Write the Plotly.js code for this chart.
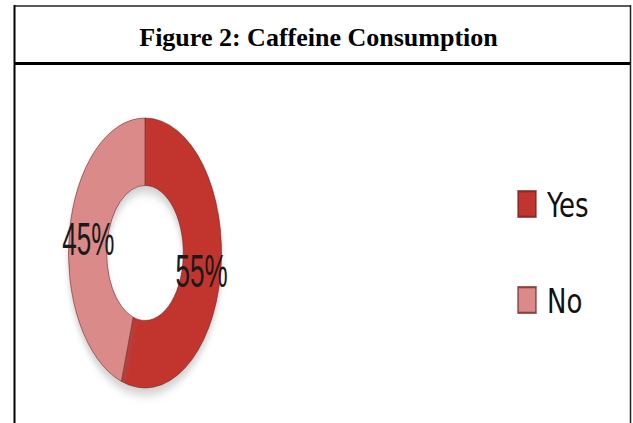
<!DOCTYPE html>
<html>
<head>
<meta charset="utf-8">
<script src="https://cdn.plot.ly/plotly-3.0.1.min.js"></script>
<style>
  html, body { margin: 0; padding: 0; background: #ffffff; }
  #chart { width: 633px; height: 423px; }
</style>
</head>
<body>
<div id="chart"></div>
<script>
// ---- data ----
const categories = ['Yes', 'No'];
const values = [55, 45];
const sliceColors = ['#C2352F', '#D98A89'];
const chartTitle = 'Figure 2: Caffeine Consumption';

const W = 633, H = 423;
const px = v => v / W;
const py = v => 1 - v / H;
const HOLE = 0.5;
const SQUISH = 0.567;

const trace = {
  type: 'pie',
  labels: categories,
  values: values,
  sort: false,
  direction: 'clockwise',
  rotation: 0,
  hole: HOLE,
  marker: { colors: sliceColors, line: { color: 'rgba(110,25,25,0.7)', width: 1 } },
  textinfo: 'percent',
  textposition: 'inside',
  insidetextorientation: 'horizontal',
  textfont: { family: 'Liberation Sans, Arial, sans-serif', size: 46, color: '#1a1a1a' },
  domain: { x: [px(10), px(280)], y: [py(388), py(118)] },
  hoverinfo: 'none'
};

const layout = {
  width: W, height: H,
  margin: { l: 0, r: 0, t: 0, b: 0 },
  paper_bgcolor: '#ffffff',
  plot_bgcolor: '#ffffff',
  title: {
    text: '<b>' + chartTitle + '</b>',
    font: { family: 'Liberation Serif, Times New Roman, serif', size: 26, color: '#000000' },
    x: px(318.5), xanchor: 'center',
    y: py(37), yanchor: 'middle', yref: 'container'
  },
  uniformtext: { mode: 'show', minsize: 46 },
  showlegend: true,
  legend: {
    x: px(507), xanchor: 'left',
    y: py(180), yanchor: 'top',
    bgcolor: 'rgba(0,0,0,0)',
    font: { family: 'Liberation Sans Narrow, DejaVu Sans Condensed, Arial Narrow, sans-serif', size: 34, color: '#111111' },
    traceorder: 'normal'
  },
  shapes: [
    { type: 'line', xref: 'paper', yref: 'paper', x0: px(14), x1: px(631), y0: py(6), y1: py(6), line: { color: '#5a5a5a', width: 2 } },
    { type: 'line', xref: 'paper', yref: 'paper', x0: px(14), x1: px(631), y0: py(63.5), y1: py(63.5), line: { color: '#000000', width: 3 } },
    { type: 'line', xref: 'paper', yref: 'paper', x0: px(14.5), x1: px(14.5), y0: py(5), y1: 0, line: { color: '#000000', width: 2 } },
    { type: 'line', xref: 'paper', yref: 'paper', x0: px(630.5), x1: px(630.5), y0: py(5), y1: 0, line: { color: '#222222', width: 1.5 } }
  ]
};

const gd = document.getElementById('chart');
const SVGNS = 'http://www.w3.org/2000/svg';

function addShadowFilter() {
  const svg = gd.querySelector('.main-svg');
  if (!svg || svg.querySelector('#donutShadow')) return;
  let defs = svg.querySelector('defs');
  if (!defs) { defs = document.createElementNS(SVGNS, 'defs'); svg.insertBefore(defs, svg.firstChild); }
  const f = document.createElementNS(SVGNS, 'filter');
  f.setAttribute('id', 'donutShadow');
  f.setAttribute('x', '-20%'); f.setAttribute('y', '-20%');
  f.setAttribute('width', '140%'); f.setAttribute('height', '140%');
  const ds = document.createElementNS(SVGNS, 'feDropShadow');
  ds.setAttribute('dx', '0'); ds.setAttribute('dy', '7');
  ds.setAttribute('stdDeviation', '5');
  ds.setAttribute('flood-color', '#7a7a7a');
  ds.setAttribute('flood-opacity', '0.35');
  f.appendChild(ds);
  defs.appendChild(f);
}

function adjust() {
  addShadowFilter();
  const pl = gd.querySelector('.pielayer');
  const cd = gd.calcdata && gd.calcdata[0];
  if (pl && cd) {
    const cd0 = cd[0];
    const cx = cd0.cx, cy = cd0.cy, R = cd0.r;
    // perspective-like squash of the doughnut (as in the source figure)
    pl.setAttribute('transform', 'translate(' + cx + ',0) scale(' + SQUISH + ',1) translate(' + (-cx) + ',0)');
    pl.querySelectorAll('path.surface').forEach(function (p) { p.setAttribute('filter', 'url(#donutShadow)'); });
    // put each percent label at its slice's mid-angle, middle of the ring
    const svgRect = gd.querySelector('.main-svg').getBoundingClientRect();
    const total = values.reduce((a, b) => a + b, 0);
    const rMid = R * (1 + HOLE) / 2;
    let cum = 0;
    const groups = pl.querySelectorAll('g.slicetext');
    values.forEach(function (v, i) {
      const theta = 2 * Math.PI * (cum + v / 2) / total;
      cum += v;
      const g = groups[i];
      if (!g) return;
      g.removeAttribute('transform');
      const b = g.getBoundingClientRect();
      const curX = b.left + b.width / 2 - svgRect.left;
      const curY = b.top + b.height / 2 - svgRect.top;
      const tgtX = cx + SQUISH * rMid * Math.sin(theta);
      const tgtY = cy - rMid * Math.cos(theta) + 2;
      const dx = (tgtX - curX) / SQUISH;
      const dy = tgtY - curY;
      g.setAttribute('transform', 'translate(' + dx + ',' + dy + ')');
    });
  }
  // legend: tall rectangle symbols, narrower text, items spread apart
  gd.querySelectorAll('.legend path.legendpie').forEach(function (p) {
    if (!p.dataset.scaled) {
      p.setAttribute('transform', (p.getAttribute('transform') || '') + ' scale(1.5,2.15)');
      p.dataset.scaled = '1';
    }
  });
  gd.querySelectorAll('.legend text.legendtext').forEach(function (t) {
    t.setAttribute('transform', 'translate(40,0) scale(0.85,1) translate(-40,0)');
  });
  const sb = gd.querySelector('.legend .scrollbox');
  if (sb) sb.removeAttribute('clip-path');
  const items = gd.querySelectorAll('.legend g.traces');
  items.forEach(function (it, i) {
    it.setAttribute('transform', 'translate(0,' + (24 + i * 96) + ')');
  });
}

Plotly.newPlot(gd, [trace], layout, { displayModeBar: false, staticPlot: true }).then(function () {
  adjust();
});
</script>
</body>
</html>
